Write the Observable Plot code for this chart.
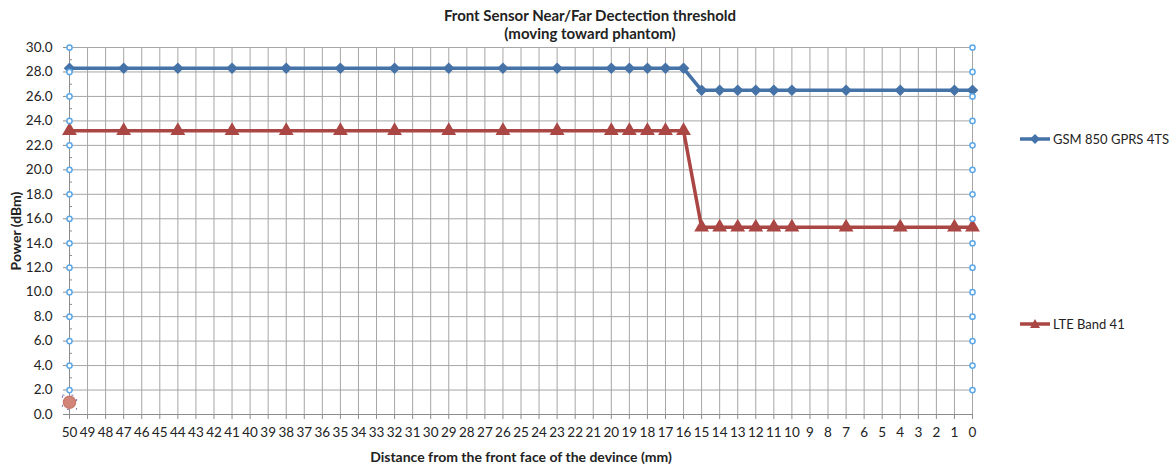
<!DOCTYPE html>
<html>
<head>
<meta charset="utf-8">
<script src="https://cdn.jsdelivr.net/npm/d3@7"></script>
<script src="https://cdn.jsdelivr.net/npm/@observablehq/plot@0.6"></script>
<style>
  body { margin: 0; background: #fff; font-family: Lato, "Open Sans", sans-serif; }
  #wrap { position: relative; width: 1170px; height: 466px; overflow: hidden; }
  #chart { position: absolute; left: 0; top: 0; }
  .ttl { position: absolute; left: 0; width: 1180px; text-align: center; font-weight: bold; font-size: 15px; color: #222; line-height: 18px; z-index: 2; }
  .leg { position: absolute; font-size: 13px; color: #222; display: flex; align-items: center; z-index: 2; }
  .leg svg { margin-right: 2px; }
</style>
</head>
<body>
<div id="wrap">
  <div id="chart"></div>
  <div class="ttl" style="top:6px">Front Sensor Near/Far Dectection threshold</div>
  <div class="ttl" style="top:24px">(moving toward phantom)</div>
  <div class="leg" style="left:1019px; top:131px;">
    <svg width="32" height="16"><line x1="1" x2="31" y1="8" y2="8" stroke="#4572A7" stroke-width="3.5"/><path d="M16,3 L21,8 L16,13 L11,8 Z" fill="#4572A7"/></svg>GSM 850 GPRS 4TS
  </div>
  <div class="leg" style="left:1019px; top:316px;">
    <svg width="32" height="16"><line x1="1" x2="31" y1="8" y2="8" stroke="#AA4643" stroke-width="3.5"/><path d="M16,3 L21,12 L11,12 Z" fill="#AA4643"/></svg>LTE Band 41
  </div>
</div>
<script>
// ---- data ----
const distances = [50,47,44,41,38,35,32,29,26,23,20,19,18,17,16,15,14,13,12,11,10,7,4,1,0];
const gsm850 = [28.3,28.3,28.3,28.3,28.3,28.3,28.3,28.3,28.3,28.3,28.3,28.3,28.3,28.3,28.3,26.5,26.5,26.5,26.5,26.5,26.5,26.5,26.5,26.5,26.5];
const lteB41 = [23.2,23.2,23.2,23.2,23.2,23.2,23.2,23.2,23.2,23.2,23.2,23.2,23.2,23.2,23.2,15.3,15.3,15.3,15.3,15.3,15.3,15.3,15.3,15.3,15.3];
const xTicks = [50,49,48,47,46,45,44,43,42,41,40,39,38,37,36,35,34,33,32,31,30,29,28,27,26,25,24,23,22,21,20,19,18,17,16,15,14,13,12,11,10,9,8,7,6,5,4,3,2,1,0];
const yTicks = [0,2,4,6,8,10,12,14,16,18,20,22,24,26,28,30];
const yMinor = [1,3,5,7,9,11,13,15,17,19,21,23,25,27,29];
// stray marker series seen on the left/right axes
const edgeMarkerY = [2,4,6,8,10,12,14,16,18,20,22,24,26,28,30];
const edgeMarkerX = [50,0];
const strayPoint = [{x:50, y:1.0}];

const gsmData = distances.map((d,i)=>({x:d, y:gsm850[i]}));
const lteData = distances.map((d,i)=>({x:d, y:lteB41[i]}));
const edgeData = edgeMarkerX.flatMap(x => edgeMarkerY.map(y => ({x, y})));

const GRID = "#a6a6a6";
const chart = Plot.plot({
  width: 1170,
  height: 466,
  marginTop: 47,
  marginBottom: 52,
  marginLeft: 69,
  marginRight: 198,
  style: {fontFamily: "Lato, 'Open Sans', sans-serif", fontSize: "13px", color: "#222", background: "#fff", overflow: "visible"},
  x: {domain: [50, 0], type: "linear"},
  y: {domain: [0, 30]},
  marks: [
    Plot.gridX(xTicks, {stroke: GRID, strokeOpacity: 1}),
    Plot.gridY(yTicks, {stroke: GRID, strokeOpacity: 1}),
    Plot.ruleX([50], {stroke: "#8c8c8c"}),
    Plot.ruleY([0], {stroke: "#8c8c8c"}),
    Plot.axisY(yTicks, {tickFormat: d3.format(".1f"), tickSize: 6, tickPadding: 11, stroke: "#8c8c8c", fontSize: 13.5,
      label: "Power (dBm)", labelAnchor: "center", labelArrow: "none", labelOffset: 58}),
    Plot.axisY(yMinor, {tickFormat: () => "", tickSize: -3, stroke: "#8c8c8c", label: null}),
    Plot.axisX(xTicks, {tickFormat: d => String(d), tickSize: 5, tickPadding: 8, stroke: "#8c8c8c", fontSize: 13.5,
      label: "Distance from the front face of the devince (mm)", labelAnchor: "center", labelArrow: "none", labelOffset: 47}),
    Plot.line(gsmData, {x: "x", y: "y", stroke: "#4572A7", strokeWidth: 3.5}),
    Plot.dot(gsmData, {x: "x", y: "y", symbol: "diamond2", fill: "#4572A7", r: 5.2}),
    Plot.line(lteData, {x: "x", y: "y", stroke: "#AA4643", strokeWidth: 3.5}),
    Plot.dot(lteData, {x: "x", y: "y", symbol: "triangle", fill: "#AA4643", r: 5.5}),
    Plot.dot(edgeData, {x: "x", y: "y", r: 2.6, fill: "#fff", stroke: "#5BA7E8", strokeWidth: 1.5}),
    Plot.dot(strayPoint, {x: "x", y: "y", r: 8, symbol: "square", fill: "none", stroke: "#7b6fb3", strokeWidth: 1, strokeDasharray: "2,7"}),
    Plot.dot(strayPoint, {x: "x", y: "y", r: 6, fill: "#D2867A", stroke: "#C97A6E"})
  ]
});
document.getElementById("chart").appendChild(chart);
// make axis labels bold
chart.querySelectorAll("g[aria-label='y-axis label'] text, g[aria-label='x-axis label'] text").forEach(t => { t.style.fontWeight = "bold"; t.style.fontSize = "14px"; });
</script>
</body>
</html>
